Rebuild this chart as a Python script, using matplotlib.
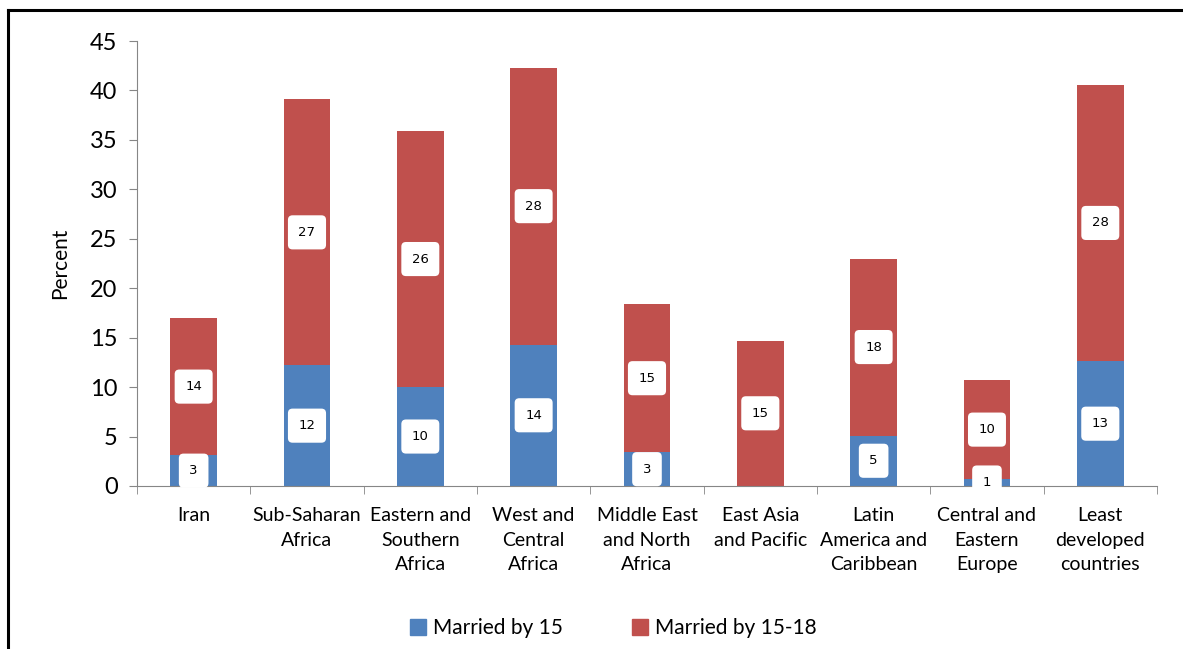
import matplotlib
matplotlib.use("Agg")
import matplotlib.pyplot as plt
import numpy as np
from matplotlib.lines import Line2D

# data
categories = ["Iran", "Sub-Saharan\nAfrica", "Eastern and\nSouthern\nAfrica",
              "West and\nCentral\nAfrica", "Middle East\nand North\nAfrica",
              "East Asia\nand Pacific", "Latin\nAmerica and\nCaribbean",
              "Central and\nEastern\nEurope", "Least\ndeveloped\ncountries"]
married_15 = [3.1, 12.2, 10.0, 14.3, 3.4, 0.0, 5.1, 0.7, 12.6]
married_15_18 = [13.9, 26.9, 25.9, 28.0, 15.0, 14.7, 17.9, 10.0, 28.0]
labels_15 = ["3", "12", "10", "14", "3", "", "5", "1", "13"]
labels_15_18 = ["14", "27", "26", "28", "15", "15", "18", "10", "28"]

BLUE = "#4F81BD"
RED = "#C0504D"
AXIS = "#868686"
FONT = ["Lato", "DejaVu Sans"]

plt.rcParams['font.family'] = FONT

fig = plt.figure(figsize=(11.83, 6.49), dpi=100)
ax = fig.add_axes([0.1158, 0.2512, 0.978 - 0.1158, 0.9368 - 0.2512])

x = np.arange(len(categories))
w = 0.41
ax.bar(x, married_15, w, color=BLUE, label="Married by 15")
ax.bar(x, married_15_18, w, bottom=married_15, color=RED, label="Married by 15-18")

# white rounded value boxes
box = dict(boxstyle="round,pad=0.8,rounding_size=0.35", fc="white", ec="none")
for i in range(len(categories)):
    if labels_15[i]:
        ax.text(x[i], married_15[i] / 2, labels_15[i], ha="center", va="center",
                fontsize=9.5, family=["DejaVu Sans"], bbox=box)
    ax.text(x[i], married_15[i] + married_15_18[i] / 2, labels_15_18[i],
            ha="center", va="center", fontsize=9.5, family=["DejaVu Sans"], bbox=box)

ax.set_xlim(-0.5, len(categories) - 0.5)
ax.set_ylim(0, 45)
ax.set_yticks(np.arange(0, 46, 5))
ax.tick_params(axis="y", labelsize=17, length=6, color=AXIS, pad=8)
ax.set_xticks(x)
ax.set_xticklabels(categories, fontsize=14, linespacing=1.55)
ax.set_xticks(np.arange(-0.5, len(categories), 1), minor=True)
ax.tick_params(axis="x", which="major", length=0, pad=15)
ax.tick_params(axis="x", which="minor", length=6, color=AXIS)

for s in ["top", "right"]:
    ax.spines[s].set_visible(False)
for s in ["left", "bottom"]:
    ax.spines[s].set_color(AXIS)

ax.set_ylabel("Percent", fontsize=15, labelpad=14)

handles = [Line2D([], [], marker="s", ls="none", color=BLUE, markersize=12),
           Line2D([], [], marker="s", ls="none", color=RED, markersize=12)]
fig.legend(handles, ["Married by 15", "Married by 15-18"], loc="center",
           bbox_to_anchor=(0.513, 0.032), ncol=2, frameon=False, fontsize=15,
           handletextpad=-0.3, columnspacing=2.7)

# outer frame (left and top edges)
fig.add_artist(Line2D([0.0068, 0.0068], [0, 0.985], transform=fig.transFigure,
                      color="black", lw=2.2))
fig.add_artist(Line2D([0.0068, 1.0], [0.985, 0.985], transform=fig.transFigure,
                      color="black", lw=2.2))

fig.savefig("out.png", dpi=100)
